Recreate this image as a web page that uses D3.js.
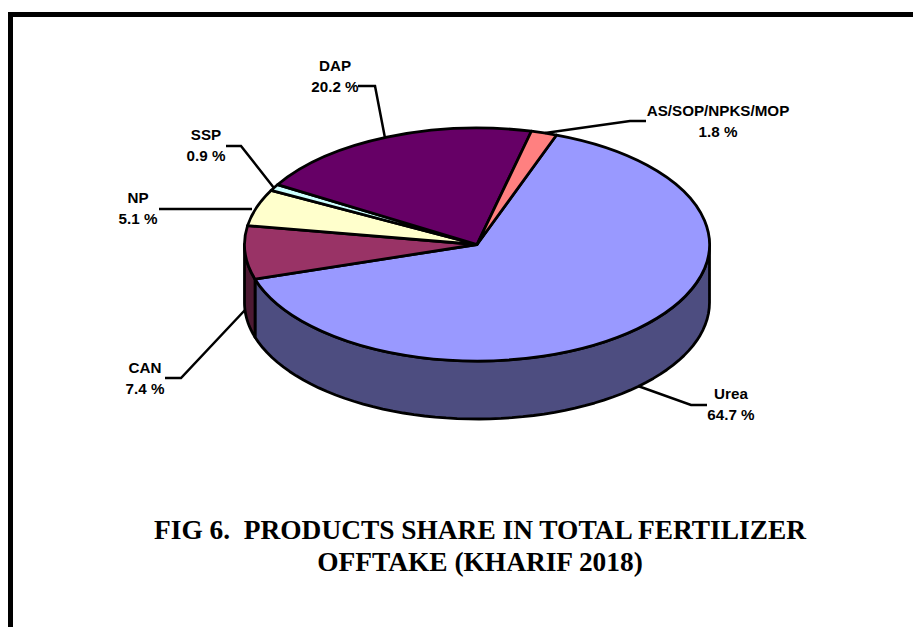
<!DOCTYPE html>
<html><head><meta charset="utf-8">
<script src="https://cdn.jsdelivr.net/npm/d3@7/dist/d3.min.js"></script>
<style>html,body{margin:0;padding:0;background:#fff;overflow:hidden}svg{display:block}</style>
</head><body>
<svg id="c" width="913" height="627"></svg>
<script>
const categories = ["Urea","CAN","NP","SSP","DAP","AS/SOP/NPKS/MOP"];
const shares = [64.7,7.4,5.1,0.9,20.2,1.8];
const labels = ["64.7 %","7.4 %","5.1 %","0.9 %","20.2 %","1.8 %"];
const topColors = ["#9999ff","#993366","#ffffcc","#ccffff","#660066","#ff8080"];
const sideColors = ["#4d4d80","#4d1a33","#808066","#668080","#330033","#804040"];
const labelAnchors = [[731,398.5],[145,373],[138,203],[206,140],[335,70.5],[718,116]];
const leaders = [[[638,386],[691,405],[707,405]],[[245,310],[181,378],[165,378]],[[252,209],[175,209],[159,209]],[[274,188],[241,146],[226,146]],[[385,138],[375,86],[358,86]],[[545,133],[630,121],[646,121]]];
const titleLines = ["FIG 6.  PRODUCTS SHARE IN TOTAL FERTILIZER","OFFTAKE (KHARIF 2018)"];

const svg = d3.select("#c");
const cx=477, cy=244.5, rx=232.5, ry=116.5, depth=58;
const start = 20*Math.PI/180;
const pie = d3.pie().sort(null).value(d=>d).startAngle(start).endAngle(start+2*Math.PI);
const arcs = pie(shares);
const sx = d3.scaleLinear().domain([-1,1]).range([cx-rx,cx+rx]);
const sy = d3.scaleLinear().domain([-1,1]).range([cy-ry,cy+ry]);
const px = a=>sx(Math.sin(a)), py=a=>sy(-Math.cos(a));

// frame
const fr = svg.append("g").attr("stroke","#000").attr("stroke-width",5).attr("fill","none");
fr.append("path").attr("d","M10.5,627V14.5H913");

// side walls: only the visible front part (angles between 90 and 270 deg)
function wall(a0,a1){
  const steps=60, top=[], bot=[];
  for(let i=0;i<=steps;i++){const a=a0+(a1-a0)*i/steps; top.push([px(a),py(a)]); bot.push([px(a),py(a)+depth]);}
  return d3.line()(top.concat(bot.reverse()))+"Z";
}
const vis0=Math.PI/2, vis1=1.5*Math.PI;
arcs.forEach((d,i)=>{
  const a0=Math.max(d.startAngle,vis0), a1=Math.min(d.endAngle,vis1);
  if(a1>a0){
    svg.append("path").attr("d",wall(a0,a1)).attr("fill",sideColors[i])
      .attr("stroke","#000").attr("stroke-width",2.8).attr("stroke-linejoin","round");
  }
});
// top faces
const arcGen = d3.arc().innerRadius(0).outerRadius(rx);
svg.append("g").attr("transform",`translate(${cx},${cy}) scale(1,${ry/rx})`)
  .selectAll("path").data(arcs).join("path")
  .attr("d",arcGen).attr("fill",(d,i)=>topColors[i])
  .attr("stroke","#000").attr("stroke-width",2.8).attr("stroke-linejoin","round")
  .attr("vector-effect","non-scaling-stroke");

// leaders
const ln=d3.line();
svg.append("g").selectAll("path").data(leaders).join("path")
  .attr("d",d=>ln(d)).attr("fill","none").attr("stroke","#000").attr("stroke-width",2.5);

// labels
const lf="'Liberation Sans',Arial,sans-serif";
categories.forEach((c,i)=>{
  const [x,y]=labelAnchors[i];
  const g=svg.append("text").attr("text-anchor","middle").attr("font-family",lf)
    .attr("font-weight","bold").attr("font-size",15.2).attr("fill","#000");
  g.append("tspan").attr("x",x).attr("y",y).text(c);
  g.append("tspan").attr("x",x).attr("y",y+21).text(labels[i]);
});
// title
svg.append("g").selectAll("text").data(titleLines).join("text")
  .attr("x",480).attr("y",(d,i)=>539+i*31.5)
  .attr("text-anchor","middle").attr("font-family","'Liberation Serif','Times New Roman',serif")
  .attr("font-weight","bold").attr("font-size",27.4).style("white-space","pre").attr("fill","#000")
  .text(d=>d);
</script>
</body></html>
